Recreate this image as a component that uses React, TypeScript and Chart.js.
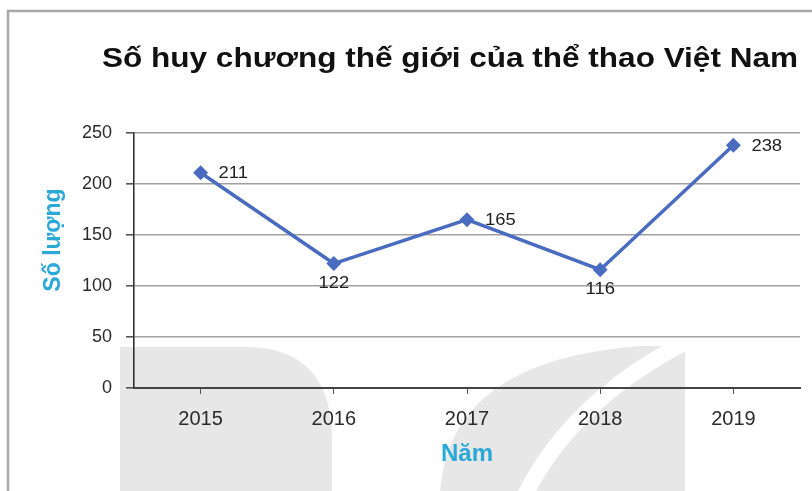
import React, { useEffect, useRef } from "react";
import { Chart, registerables } from "chart.js";

Chart.register(...registerables);

const years = ["2015", "2016", "2017", "2018", "2019"];
const medals = [211, 122, 165, 116, 238];
const yTicks = [0, 50, 100, 150, 200, 250];
const titleText = "Số huy chương thế giới của thể thao Việt Nam";
const yTitleText = "Số lượng";
const xTitleText = "Năm";

const FONT = "'Liberation Sans', Arial, sans-serif";
const LINE_COLOR = "#4a6cc0";
const CYAN = "#2aa8d8";
const STRETCH = 1.15;

function stretchedText(ctx: any, text: string, x: number, y: number, align: string, sx: number) {
  const w = ctx.measureText(text).width * sx;
  let left = x;
  if (align === "center") left = x - w / 2;
  else if (align === "right") left = x - w;
  ctx.save();
  ctx.textAlign = "left";
  ctx.translate(left, y);
  ctx.scale(sx, 1);
  ctx.fillText(text, 0, 0);
  ctx.restore();
}

const decorPlugin = {
  id: "decor",
  beforeDraw(chart: any) {
    const ctx = chart.ctx;
    ctx.save();
    ctx.fillStyle = "#ffffff";
    ctx.fillRect(0, 0, chart.width, chart.height);
    // watermark (light grey)
    ctx.fillStyle = "#e7e7e7";
    ctx.beginPath();
    ctx.moveTo(120, 491);
    ctx.lineTo(120, 347);
    ctx.lineTo(250, 347);
    ctx.quadraticCurveTo(332, 350, 332, 440);
    ctx.lineTo(332, 491);
    ctx.closePath();
    ctx.fill();
    ctx.beginPath();
    ctx.moveTo(440, 491);
    ctx.quadraticCurveTo(450, 360, 640, 346);
    ctx.lineTo(685, 346);
    ctx.lineTo(685, 491);
    ctx.closePath();
    ctx.fill();
    ctx.strokeStyle = "#ffffff";
    ctx.lineWidth = 16;
    ctx.beginPath();
    ctx.moveTo(525, 495);
    ctx.quadraticCurveTo(575, 395, 700, 335);
    ctx.stroke();
    // frame
    ctx.strokeStyle = "#a8a8a8";
    ctx.lineWidth = 2.5;
    ctx.beginPath();
    ctx.moveTo(8, 491);
    ctx.lineTo(8, 11);
    ctx.lineTo(812, 11);
    ctx.stroke();
    ctx.restore();
  },
  afterDraw(chart: any) {
    const ctx = chart.ctx;
    const area = chart.chartArea;
    ctx.save();
    // title
    ctx.fillStyle = "#111111";
    ctx.font = `bold 27px ${FONT}`;
    ctx.textBaseline = "alphabetic";
    const w = ctx.measureText(titleText).width;
    stretchedText(ctx, titleText, 450, 67, "center", 696 / w);
    // y title
    ctx.fillStyle = CYAN;
    ctx.font = `bold 23px ${FONT}`;
    ctx.textBaseline = "middle";
    ctx.save();
    ctx.translate(54, 240);
    ctx.rotate(-Math.PI / 2);
    ctx.textAlign = "center";
    ctx.fillText(yTitleText, 0, 0);
    ctx.restore();
    // x title
    ctx.font = `bold 24px ${FONT}`;
    ctx.textAlign = "center";
    ctx.fillText(xTitleText, (area.left + area.right) / 2, 454);
    ctx.restore();
  },
};

const labelPlugin = {
  id: "pointLabels",
  afterDatasetsDraw(chart: any) {
    const ctx = chart.ctx;
    const meta = chart.getDatasetMeta(0);
    const vals = chart.data.datasets[0].data as number[];
    ctx.save();
    ctx.fillStyle = "#222222";
    ctx.font = `16px ${FONT}`;
    ctx.textBaseline = "middle";
    meta.data.forEach((pt: any, i: number) => {
      const v = vals[i];
      const prev = i > 0 ? vals[i - 1] : -Infinity;
      const next = i < vals.length - 1 ? vals[i + 1] : -Infinity;
      const below = v < prev && v < next;
      if (below) {
        stretchedText(ctx, String(v), pt.x, pt.y + 20, "center", STRETCH);
      } else {
        stretchedText(ctx, String(v), pt.x + 18, pt.y + 1, "left", STRETCH);
      }
    });
    ctx.restore();
  },
};

export default function App() {
  const ref = useRef<HTMLCanvasElement | null>(null);
  useEffect(() => {
    if (!ref.current) return;
    const chart = new Chart(ref.current, {
      type: "line",
      data: {
        labels: years,
        datasets: [
          {
            data: medals,
            borderColor: LINE_COLOR,
            backgroundColor: LINE_COLOR,
            borderWidth: 3.5,
            pointStyle: "rectRot",
            pointRadius: 5,
            pointHoverRadius: 5,
            tension: 0,
          },
        ],
      },
      options: {
        animation: false,
        responsive: false,
        layout: { padding: { top: 133, right: 12, left: 0, bottom: 0 } },
        plugins: {
          legend: { display: false },
          tooltip: { enabled: false },
          title: { display: false },
        },
        scales: {
          x: {
            type: "category",
            offset: true,
            grid: {
              drawOnChartArea: false,
              offset: false,
              tickLength: 6,
              color: "#555555",
              lineWidth: 1,
            },
            border: { color: "#444444", width: 2 },
            ticks: {
              font: { family: FONT, size: 20 },
              color: "#2b2b2b",
              padding: 13,
            },
            afterFit: (s: any) => {
              s.height = 103;
            },
          },
          y: {
            min: 0,
            max: 250,
            afterBuildTicks: (s: any) => {
              s.ticks = yTicks.map((v) => ({ value: v }));
            },
            grid: {
              color: "#a0a0a0",
              lineWidth: 1.6,
              tickLength: 8,
              tickColor: "#555555",
            },
            border: { color: "#333333", width: 1.6 },
            ticks: {
              font: { family: FONT, size: 18 },
              color: "#2b2b2b",
              padding: 14,
            },
            afterFit: (s: any) => {
              s.width = 134;
            },
          },
        },
      },
      plugins: [decorPlugin, labelPlugin],
    });
    return () => chart.destroy();
  }, []);
  return (
    <div style={{ position: "fixed", left: 0, top: 0, width: 812, height: 491 }}>
      <canvas ref={ref} width={812} height={491} style={{ display: "block" }} />
    </div>
  );
}
